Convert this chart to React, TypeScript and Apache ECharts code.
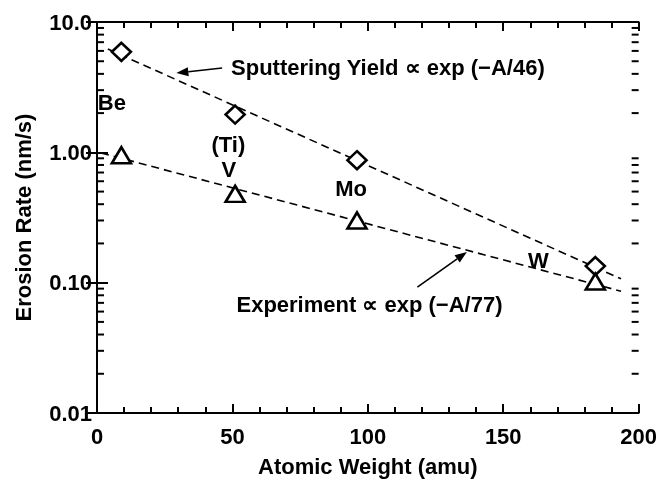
import React, { useEffect, useRef } from "react";
import * as echarts from "echarts";

// Measured data (atomic weight, erosion rate nm/s)
const sputterX = [9, 51, 96, 184];
const sputterY = [5.9, 1.95, 0.87, 0.134];
const experX = [9, 51, 96, 184];
const experY = [0.95, 0.48, 0.3, 0.102];

// Fit lines (end points)
const sputterFitX = [4, 193.5];
const sputterFitY = [6.2, 0.107];
const experFitX = [1.5, 193.5];
const experFitY = [0.99, 0.086];

// Axis ticks
const xTickLabels = ["0", "50", "100", "150", "200"];
const yTickValues = [0.01, 0.1, 1, 10];
const yTickLabels = ["0.01", "0.10", "1.00", "10.0"];
const yMinorTicks = [
  0.02, 0.03, 0.04, 0.05, 0.06, 0.07, 0.08, 0.09,
  0.2, 0.3, 0.4, 0.5, 0.6, 0.7, 0.8, 0.9,
  2, 3, 4, 5, 6, 7, 8, 9,
];

// Text annotations
const labelX = [5.5, 48.5, 48.7, 93.8, 163];
const labelY = [2.43, 1.14, 0.738, 0.527, 0.149];
const labelText = ["Be", "(Ti)", "V", "Mo", "W"];
const noteX = [49.5, 51.5];
const noteY = [4.44, 0.0675];
const noteText = ["Sputtering Yield \u221D exp (\u2212A/46)", "Experiment \u221D exp (\u2212A/77)"];

// Arrows: tail -> head
const arrowTailX = [46.2, 118.3];
const arrowTailY = [4.44, 0.0925];
const arrowHeadX = [29.3, 136.6];
const arrowHeadY = [4.06, 0.172];

const FONT = "'Liberation Sans', Arial, Helvetica, sans-serif";

export default function App() {
  const ref = useRef<HTMLDivElement>(null);
  useEffect(() => {
    if (!ref.current) return;
    const chart = echarts.init(ref.current, undefined, { renderer: "svg" });
    const textStyle = { fontFamily: FONT, fontWeight: "bold" as const, fontSize: 22, color: "#000" };
    const yLabelFmt = (v: number) => {
      const e = Math.round(Math.log10(v));
      const i = yTickValues.findIndex((t) => Math.round(Math.log10(t)) === e);
      return i >= 0 ? yTickLabels[i] : "";
    };

    const option: any = {
      animation: false,
      grid: { left: 97, right: 17, top: 22, bottom: 69 },
      xAxis: [
        {
          type: "value",
          min: 0,
          max: 200,
          interval: 50,
          splitLine: { show: false },
          axisLine: { lineStyle: { color: "#000", width: 2 } },
          axisTick: { show: true, inside: true, length: 9, lineStyle: { color: "#000", width: 2 } },
          minorTick: { show: true, splitNumber: 5, length: 6, lineStyle: { color: "#000", width: 2 } },
          axisLabel: {
            ...textStyle,
            margin: 12,
            formatter: (v: number) => xTickLabels[Math.round(v / 50)] ?? "",
          },
          name: "Atomic Weight (amu)",
          nameLocation: "middle",
          nameGap: 42,
          nameTextStyle: textStyle,
        },
        {
          type: "value",
          position: "top",
          min: 0,
          max: 200,
          interval: 50,
          splitLine: { show: false },
          axisLine: { lineStyle: { color: "#000", width: 2 } },
          axisTick: { show: true, inside: true, length: 9, lineStyle: { color: "#000", width: 2 } },
          minorTick: { show: true, splitNumber: 5, length: 6, lineStyle: { color: "#000", width: 2 } },
          axisLabel: { show: false },
        },
      ],
      yAxis: [
        {
          type: "log",
          min: 0.01,
          max: 10,
          splitLine: { show: false },
          axisLine: { show: true, lineStyle: { color: "#000", width: 2 } },
          axisTick: { show: true, inside: true, length: 11, lineStyle: { color: "#000", width: 2 } },
          axisLabel: { ...textStyle, margin: 5, formatter: yLabelFmt },
          name: "Erosion Rate (nm/s)",
          nameLocation: "middle",
          nameGap: 63,
          nameTextStyle: textStyle,
        },
        {
          type: "log",
          position: "right",
          min: 0.01,
          max: 10,
          splitLine: { show: false },
          axisLine: { show: true, lineStyle: { color: "#000", width: 2 } },
          axisTick: { show: true, inside: true, length: 11, lineStyle: { color: "#000", width: 2 } },
          axisLabel: { show: false },
        },
      ],
      series: [
        {
          type: "line",
          data: sputterFitX.map((x, i) => [x, sputterFitY[i]]),
          showSymbol: false,
          symbol: "none",
          lineStyle: { color: "#000", width: 1.6, type: [8, 5] },
          z: 2,
        },
        {
          type: "line",
          data: experFitX.map((x, i) => [x, experFitY[i]]),
          showSymbol: false,
          symbol: "none",
          lineStyle: { color: "#000", width: 1.6, type: [8, 5] },
          z: 2,
        },
        {
          type: "scatter",
          data: sputterX.map((x, i) => [x, sputterY[i]]),
          symbol: "diamond",
          symbolSize: [19, 18],
          itemStyle: { color: "#fff", borderColor: "#000", borderWidth: 2.6, opacity: 1 },
          z: 5,
        },
        {
          type: "scatter",
          data: experX.map((x, i) => [x, experY[i]]),
          symbol: "triangle",
          symbolSize: [19, 16],
          itemStyle: { color: "#fff", borderColor: "#000", borderWidth: 2.6, opacity: 1 },
          z: 5,
        },
        // arrows
        {
          type: "custom",
          silent: true,
          z: 4,
          data: arrowTailX.map((x, i) => [x, arrowTailY[i], arrowHeadX[i], arrowHeadY[i]]),
          renderItem: (params: any, api: any) => {
            const t = api.coord([api.value(0), api.value(1)]);
            const h = api.coord([api.value(2), api.value(3)]);
            const dx = h[0] - t[0];
            const dy = h[1] - t[1];
            const L = Math.sqrt(dx * dx + dy * dy);
            const ux = dx / L;
            const uy = dy / L;
            const hl = 12;
            const hw = 4.5;
            const bx = h[0] - ux * hl;
            const by = h[1] - uy * hl;
            return {
              type: "group",
              children: [
                { type: "line", shape: { x1: t[0], y1: t[1], x2: bx, y2: by }, style: { stroke: "#000", lineWidth: 1.6 } },
                {
                  type: "polygon",
                  shape: {
                    points: [
                      [h[0], h[1]],
                      [bx - uy * hw, by + ux * hw],
                      [bx + uy * hw, by - ux * hw],
                    ],
                  },
                  style: { fill: "#000" },
                },
              ],
            };
          },
        },
        // text labels
        {
          type: "custom",
          silent: true,
          z: 6,
          data: [
            ...labelX.map((x, i) => [x, labelY[i], i, 0]),
            ...noteX.map((x, i) => [x, noteY[i], i, 1]),
          ],
          renderItem: (params: any, api: any) => {
            const p = api.coord([api.value(0), api.value(1)]);
            const idx = api.value(2);
            const kind = api.value(3);
            return {
              type: "text",
              x: p[0],
              y: p[1],
              style: {
                text: kind === 0 ? labelText[idx] : noteText[idx],
                fill: "#000",
                font: `bold 22px ${FONT}`,
                textAlign: kind === 0 ? "center" : "left",
                textVerticalAlign: "middle",
              },
            };
          },
        },
      ],
    };
    chart.setOption(option);

    // log minor ticks (2..9 in each decade), placed through the chart's own scale
    const toPx = (x: number, y: number) => chart.convertToPixel({ gridIndex: 0 }, [x, y]) as number[];
    const left = toPx(0, 1)[0];
    const right = toPx(200, 1)[0];
    const els: any[] = [];
    yMinorTicks.forEach((v) => {
      const y = toPx(100, v)[1];
      els.push({ type: "line", shape: { x1: left, y1: y, x2: left + 7, y2: y }, style: { stroke: "#000", lineWidth: 2 } });
      els.push({ type: "line", shape: { x1: right, y1: y, x2: right - 7, y2: y }, style: { stroke: "#000", lineWidth: 2 } });
    });
    chart.setOption({ graphic: { elements: els } });

    return () => chart.dispose();
  }, []);
  return <div ref={ref} style={{ position: "fixed", left: 0, top: 0, width: 660, height: 482 }} />;
}
